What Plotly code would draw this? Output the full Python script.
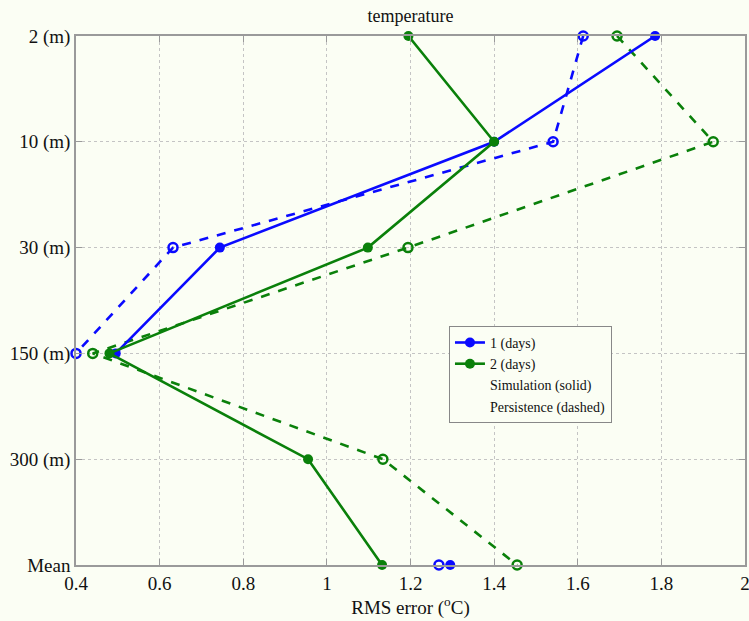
import plotly.graph_objects as go

levels = ["2 (m)", "10 (m)", "30 (m)", "150 (m)", "300 (m)", "Mean"]
sim_1day = [1.785, 1.40, 0.744, 0.495, None, 1.295]
pers_1day = [1.613, 1.541, 0.632, 0.40, None, 1.268]
sim_2day = [1.195, 1.40, 1.098, 0.48, 0.955, 1.132]
pers_2day = [1.694, 1.924, 1.194, 0.44, 1.134, 1.455]

x_ticks = [0.4, 0.6, 0.8, 1.0, 1.2, 1.4, 1.6, 1.8, 2.0]
x_ticktext = ["0.4", "0.6", "0.8", "1", "1.2", "1.4", "1.6", "1.8", "2"]

BLUE = "#0a0aff"
GREEN = "#0a800a"
BG = "#fbfef4"
FONT = "Liberation Serif, Times New Roman, Times, serif"

fig = go.Figure()

fig.add_trace(go.Scatter(x=pers_1day, y=levels, mode="lines+markers", showlegend=False,
                         line=dict(color=BLUE, width=2.6, dash="dash"),
                         marker=dict(symbol="circle-open", size=9, color=BLUE, line=dict(width=2.5)),
                         cliponaxis=False))
fig.add_trace(go.Scatter(x=pers_2day, y=levels, mode="lines+markers", showlegend=False,
                         line=dict(color=GREEN, width=2.6, dash="dash"),
                         marker=dict(symbol="circle-open", size=9, color=GREEN, line=dict(width=2.5)),
                         cliponaxis=False))
fig.add_trace(go.Scatter(x=sim_1day, y=levels, mode="lines+markers", name="1 (days)",
                         line=dict(color=BLUE, width=2.6),
                         marker=dict(symbol="circle", size=10, color=BLUE),
                         cliponaxis=False))
fig.add_trace(go.Scatter(x=sim_2day, y=levels, mode="lines+markers", name="2 (days)",
                         line=dict(color=GREEN, width=2.6),
                         marker=dict(symbol="circle", size=10, color=GREEN),
                         cliponaxis=False))
for nm in ["Simulation (solid)", "Persistence (dashed)"]:
    fig.add_trace(go.Scatter(x=[None], y=[None], mode="lines", name=nm,
                             line=dict(color="rgba(0,0,0,0)", width=0)))

axis_common = dict(showline=True, linecolor="#9a9a9a", linewidth=1.5, mirror="allticks",
                   ticks="inside", ticklen=6, tickcolor="#9a9a9a",
                   showgrid=True, gridcolor="#c4c4c4", griddash="dot", gridwidth=1,
                   zeroline=False, automargin=False, ticklabeloverflow="allow",
                   tickfont=dict(family=FONT, size=19, color="#111"))

fig.update_xaxes(range=[0.4, 2.0], tickvals=x_ticks, ticktext=x_ticktext,
                 title=dict(text="RMS error (<sup>o</sup>C)", font=dict(family=FONT, size=19, color="#111"),
                            standoff=4),
                 **axis_common)
fig.update_yaxes(type="category", categoryorder="array", categoryarray=levels,
                 range=[5, 0], **axis_common)

fig.update_layout(
    width=749, height=621,
    margin=dict(l=76, r=4, t=36, b=56),
    paper_bgcolor=BG, plot_bgcolor=BG,
    title=dict(text="temperature", x=0.548, xanchor="center", y=0.974, yanchor="middle",
               font=dict(family=FONT, size=18, color="#111")),
    legend=dict(x=0.5575, y=0.452, xanchor="left", yanchor="top",
                bgcolor=BG, bordercolor="#888", borderwidth=1,
                font=dict(family=FONT, size=14, color="#111"),
                tracegroupgap=0, itemwidth=30),
    font=dict(family=FONT),
)

fig.write_html("out.html", config={"displayModeBar": False},
               post_script="document.body.style.margin='0';document.body.style.background='%s';" % BG)
